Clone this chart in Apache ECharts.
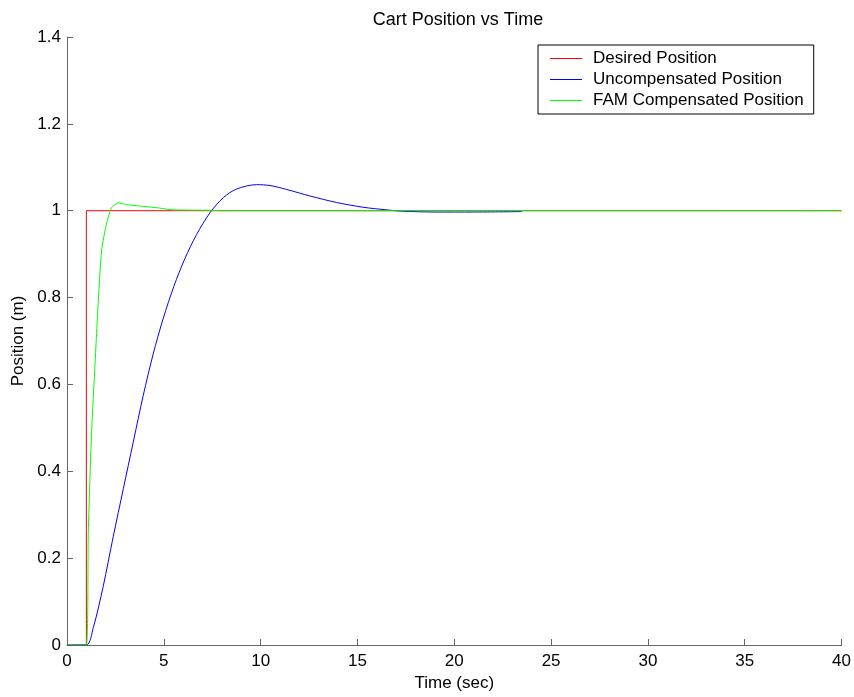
<!DOCTYPE html>
<html>
<head>
<meta charset="utf-8">
<script src="https://cdn.jsdelivr.net/npm/echarts@6/dist/echarts.min.js"></script>
<style>
html,body{margin:0;padding:0;background:#fff;}
#chart{width:854px;height:697px;}
</style>
</head>
<body>
<div id="chart"></div>
<script>
const titleText = 'Cart Position vs Time';
const seriesNames = ['Desired Position', 'Uncompensated Position', 'FAM Compensated Position'];
const xTicks = [0, 5, 10, 15, 20, 25, 30, 35, 40];
const yTicks = [0, 0.2, 0.4, 0.6, 0.8, 1, 1.2, 1.4];

const desired = [[0,0],[1,0],[1,1],[40,1]];

const uncompensated = [
  [0,0],[1,0],[1.36,0.04],[1.87,0.135],[2.39,0.25],[2.91,0.36],[3.42,0.467],
  [3.94,0.575],[4.45,0.67],[4.97,0.752],[5.52,0.826],[6.09,0.89],[6.69,0.945],
  [7.38,0.995],[8.07,1.03],[8.76,1.05],[9.79,1.060],[10.48,1.058],[11.34,1.049],
  [12.54,1.034],[13.92,1.019],[15.29,1.008],[16.5,1.002],[17.3,0.999],[19,0.997],
  [21,0.997],[23.5,0.998]
];

const famCompensated = [
  [0,0],[1,0],[1.1,0.26],[1.27,0.49],[1.44,0.64],[1.62,0.795],[1.79,0.91],
  [2.05,0.972],[2.3,1.007],[2.65,1.018],[3.08,1.014],[3.94,1.010],[4.8,1.006],
  [5.47,1.002],[7.4,1.001],[8,1],[40,1]
];

const colors = ['#ff0000', '#0000ff', '#00ff00'];
const font = '"Liberation Sans", Arial, sans-serif';

const chart = echarts.init(document.getElementById('chart'), null, {renderer: 'canvas'});
chart.setOption({
  animation: false,
  backgroundColor: '#fff',
  title: {
    text: titleText,
    left: 453, top: 6, textAlign: 'center',
    textStyle: {fontFamily: font, fontSize: 18, fontWeight: 'normal', color: '#000'}
  },
  legend: {
    orient: 'vertical',
    left: 538, top: 45,
    padding: [5, 10, 5, 12],
    itemGap: 4,
    itemWidth: 32, itemHeight: 1,
    icon: 'rect',
    borderColor: '#000', borderWidth: 1,
    backgroundColor: '#fff',
    textStyle: {fontFamily: font, fontSize: 17, color: '#000', padding: [0, 0, 0, 6]},
    data: seriesNames
  },
  grid: {left: 67, right: 12, top: 37, bottom: 51, containLabel: false},
  xAxis: {
    type: 'value', min: xTicks[0], max: xTicks[xTicks.length-1], interval: 5,
    name: 'Time (sec)', nameLocation: 'middle', nameGap: 30,
    nameTextStyle: {fontFamily: font, fontSize: 17, color: '#000'},
    axisLine: {show: true, lineStyle: {color: '#666', width: 1}},
    axisTick: {show: true, inside: true, length: 6, lineStyle: {color: '#666'}},
    axisLabel: {fontFamily: font, fontSize: 17, color: '#000', margin: 8},
    splitLine: {show: false}
  },
  yAxis: {
    type: 'value', min: yTicks[0], max: yTicks[yTicks.length-1], interval: 0.2,
    name: 'Position (m)', nameLocation: 'middle', nameGap: 38,
    nameTextStyle: {fontFamily: font, fontSize: 17, color: '#000'},
    axisLine: {show: true, lineStyle: {color: '#666', width: 1}},
    axisTick: {show: true, inside: true, length: 6, lineStyle: {color: '#666'}},
    axisLabel: {fontFamily: font, fontSize: 17, color: '#000', margin: 6},
    splitLine: {show: false}
  },
  series: [
    {name: seriesNames[0], type: 'line', data: desired, showSymbol: false, symbol: 'none',
     lineStyle: {color: colors[0], width: 1}, itemStyle: {color: colors[0]}},
    {name: seriesNames[1], type: 'line', data: uncompensated, showSymbol: false, symbol: 'none',
     smooth: 0.3,
     lineStyle: {color: colors[1], width: 1}, itemStyle: {color: colors[1]}},
    {name: seriesNames[2], type: 'line', data: famCompensated, showSymbol: false, symbol: 'none',
     smooth: 0.2,
     lineStyle: {color: colors[2], width: 1}, itemStyle: {color: colors[2]}}
  ]
});
</script>
</body>
</html>
